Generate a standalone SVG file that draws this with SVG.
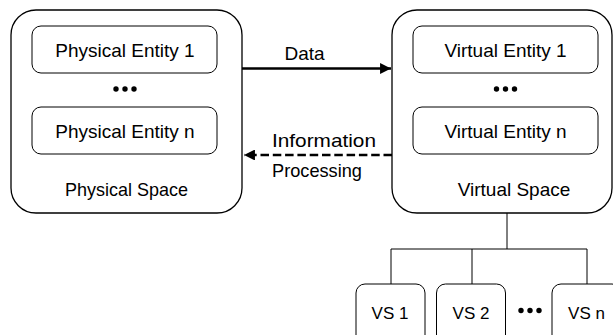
<svg xmlns="http://www.w3.org/2000/svg" width="613" height="335" viewBox="0 0 613 335">
<style>
.outer{fill:#fff;stroke:#000;stroke-width:1.3}
.inner{fill:#fff;stroke:#000;stroke-width:1}
.t{font-family:"Liberation Sans",Arial,sans-serif;font-size:19px;fill:#000;text-anchor:middle}
.ts{font-family:"Liberation Sans",Arial,sans-serif;font-size:17px;fill:#000;text-anchor:middle}
.dot{fill:#000}
.tree{fill:none;stroke:#000;stroke-width:1}
</style>
<defs>
<marker id="ah" viewBox="0 0 10 10" refX="10" refY="5" markerWidth="4.2" markerHeight="4.2" orient="auto" markerUnits="strokeWidth">
<path d="M0,0 L10,5 L0,10 Z" fill="#000"/>
</marker>
</defs>
<rect width="613" height="335" fill="#fff"/>
<g id="physical-space">
<rect class="outer" x="11" y="10" width="231" height="203" rx="25"/>
<text class="t" x="126.5" y="196" textLength="123" lengthAdjust="spacingAndGlyphs">Physical Space</text>
</g>
<g id="physical-entity-1">
<rect class="inner" x="32" y="26" width="185" height="47" rx="9"/>
<text class="t" x="125" y="57">Physical Entity 1</text>
</g>
<g id="physical-dots">
<circle class="dot" cx="116" cy="89" r="2.7"/><circle class="dot" cx="125" cy="89" r="2.7"/><circle class="dot" cx="134" cy="89" r="2.7"/>
</g>
<g id="physical-entity-n">
<rect class="inner" x="32" y="107" width="185" height="47" rx="9"/>
<text class="t" x="125" y="137.5">Physical Entity n</text>
</g>
<g id="virtual-space">
<rect class="outer" x="392" y="10" width="220" height="203" rx="25"/>
<text class="t" x="514" y="195.5">Virtual Space</text>
</g>
<g id="virtual-entity-1">
<rect class="inner" x="413" y="26" width="185" height="47" rx="9"/>
<text class="t" x="505.5" y="57">Virtual Entity 1</text>
</g>
<g id="virtual-dots">
<circle class="dot" cx="496.5" cy="89" r="2.7"/><circle class="dot" cx="505.5" cy="89" r="2.7"/><circle class="dot" cx="514.5" cy="89" r="2.7"/>
</g>
<g id="virtual-entity-n">
<rect class="inner" x="413" y="107" width="185" height="47" rx="9"/>
<text class="t" x="505.5" y="137.5">Virtual Entity n</text>
</g>
<g id="vs-1">
<rect class="inner" x="356" y="284" width="69" height="70" rx="9"/>
<text class="ts" x="390" y="318.5">VS 1</text>
</g>
<g id="vs-2">
<rect class="inner" x="436.5" y="284" width="69" height="70" rx="9"/>
<text class="ts" x="471" y="318.5">VS 2</text>
</g>
<g id="vs-dots">
<circle class="dot" cx="521" cy="310.5" r="2.7"/><circle class="dot" cx="530" cy="310.5" r="2.7"/><circle class="dot" cx="539" cy="310.5" r="2.7"/>
</g>
<g id="vs-n">
<rect class="inner" x="552" y="284" width="69" height="70" rx="9"/>
<text class="ts" x="586.5" y="318.5">VS n</text>
</g>
<g id="connectors">
<line x1="242" y1="68.5" x2="391" y2="68.5" stroke="#000" stroke-width="2.6" marker-end="url(#ah)"/>
<text class="t" x="304.5" y="60">Data</text>
<line x1="392" y1="155" x2="244" y2="155" stroke="#000" stroke-width="2.6" stroke-dasharray="8.5,3.8" marker-end="url(#ah)"/>
<text class="t" x="324" y="147" textLength="104" lengthAdjust="spacingAndGlyphs">Information</text>
<text class="t" x="317" y="176.5" textLength="90" lengthAdjust="spacingAndGlyphs">Processing</text>
<path class="tree" d="M507,213 V249 M391,249 H587 M391,249 V284 M472,249 V284 M587,249 V284"/>
</g>
</svg>
